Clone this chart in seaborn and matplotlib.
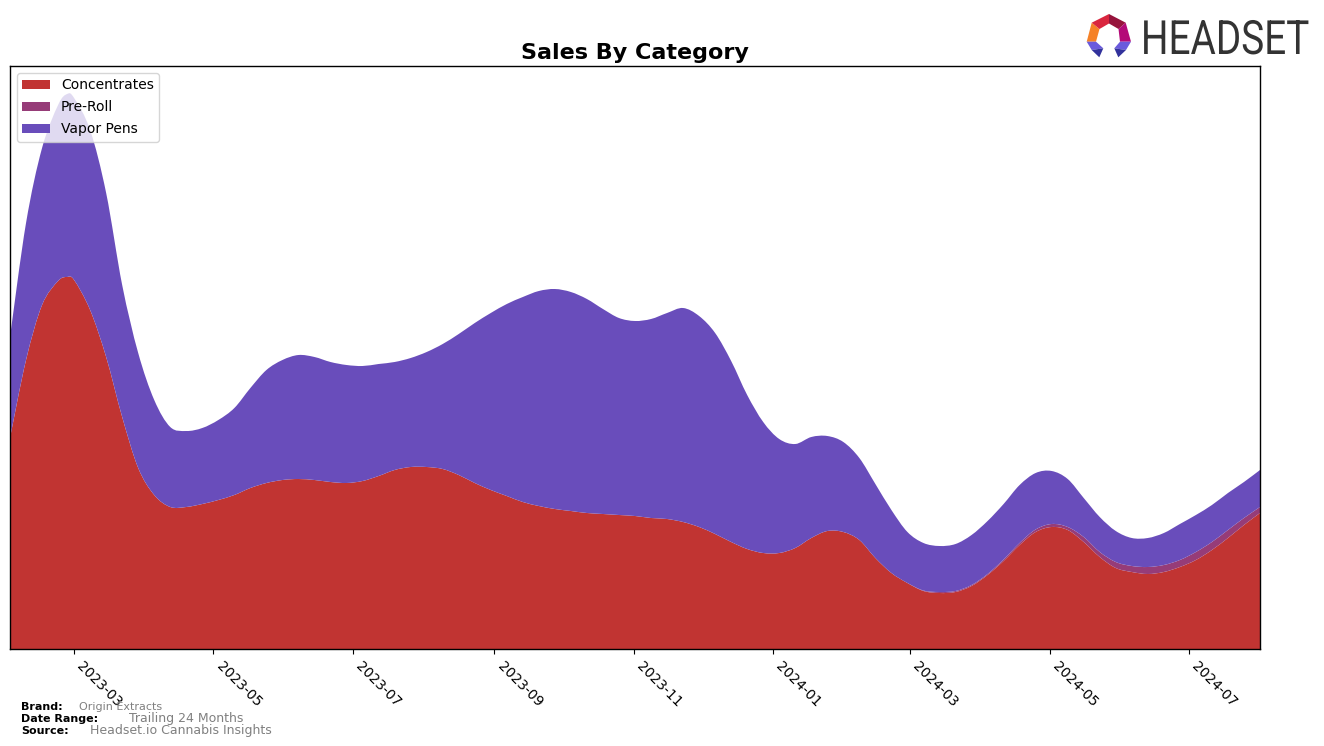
import numpy as np
import pandas as pd
import seaborn as sns
import matplotlib
matplotlib.use("Agg")
import matplotlib.pyplot as plt
import matplotlib.dates as mdates
from matplotlib.patches import Polygon, PathPatch
from matplotlib.path import Path
from matplotlib.patheffects import AbstractPathEffect
from matplotlib.transforms import Affine2D

brand = "Origin Extracts"
date_range = "Trailing 24 Months"
source = "Headset.io Cannabis Insights"
categories = ["Concentrates", "Pre-Roll", "Vapor Pens"]
palette = ["#c13432", "#963c78", "#694dbb"]
tick_months = ["2023-03", "2023-05", "2023-07", "2023-09", "2023-11", "2024-01",
               "2024-03", "2024-05", "2024-07"]

start_date = "2023-02-01"
end_date = "2024-08-01"
peak_date = "2023-02-26"

concentrates = [211, 289, 344, 368, 372, 369, 339, 292, 232, 181, 154, 142, 142, 145, 149, 154,
                161, 166, 169, 170, 169, 167, 166, 168, 173, 179, 182, 182, 180, 174, 166, 159,
                153, 147, 143, 140, 138, 136, 135, 134, 133, 131, 130, 127, 122, 115, 107, 100,
                96, 96, 101, 111, 118, 117, 109, 91, 76, 66, 58, 56, 57, 63, 74, 88, 104, 117,
                122, 119, 107, 92, 81, 77, 75, 77, 82, 89, 99, 111, 124, 136]
pre_roll = [0] * 58 + [0.5, 1, 1, 1, 1, 1.5, 2, 2.5, 3, 3, 5, 5, 6, 6, 7, 7, 7, 8, 8, 8, 7, 6]
all_categories_total = [312, 426, 501, 544, 555, 551, 519, 456, 364, 296, 249, 222, 218, 221, 229,
                        241, 261, 279, 289, 294, 292, 287, 284, 283, 285, 287, 291, 297, 305, 315,
                        326, 336, 345, 352, 358, 360, 357, 350, 340, 331, 328, 330, 336, 341, 333,
                        316, 288, 254, 227, 210, 205, 212, 213, 207, 191, 165, 139, 117, 106, 103,
                        105, 114, 128, 145, 164, 176, 178, 170, 151, 132, 118, 111, 111, 116, 125,
                        134, 144, 156, 167, 179]

dates = pd.date_range(start_date, end_date, periods=79).insert(4, pd.Timestamp(peak_date))
conc = np.array(concentrates, float)
pre = np.array(pre_roll, float)
total = np.array(all_categories_total, float)
vapor_pens = total - conc - pre


def curve(x, y):
    """Bezier vertices through the read points (control points only, the points stay as read)."""
    p = np.column_stack([x, y])
    prev = np.vstack([p[0], p[:-1]])
    nxt = np.vstack([p[1:], p[-1]])
    tan = (nxt - prev) / 6.0
    out = []
    for i in range(len(p) - 1):
        out += [p[i] + tan[i], p[i + 1] - tan[i + 1], p[i + 1]]
    return p[0], out


def band(x, lower, upper):
    s, low = curve(x, lower)
    s2, up = curve(x[::-1], upper[::-1])
    verts = [s] + low + [s2] + up + [s]
    codes = [Path.MOVETO] + [Path.CURVE4] * len(low) + [Path.LINETO] + [Path.CURVE4] * len(up) + [Path.CLOSEPOLY]
    return Path(verts, codes)


sns.set_palette(palette)
colors = sns.color_palette(palette)
W, H = 1324, 746
fig = plt.figure(figsize=(W / 100, H / 100), dpi=100)
ax = fig.add_axes([10 / W, (H - 649) / H, 1250 / W, 583 / H])
xnum = mdates.date2num(dates)
layers = np.vstack([conc, pre, vapor_pens]).cumsum(axis=0)
lower = np.zeros_like(conc)
for name, col, upper in zip(categories, colors, layers):
    ax.add_patch(PathPatch(band(xnum, lower, upper), facecolor=col, edgecolor="none", label=name))
    lower = upper
ax.xaxis_date()
ax.set_xlim(pd.Timestamp(start_date), pd.Timestamp(end_date))
ax.set_ylim(0, 583)
ax.set_yticks([])
ax.set_xticks([pd.Timestamp(m + "-01") for m in tick_months])
ax.xaxis.set_major_formatter(mdates.DateFormatter("%Y-%m"))
plt.setp(ax.get_xticklabels(), rotation=-45, ha="left", fontsize=10)
sns.despine(ax=ax, top=False, right=False)
for s in ax.spines.values():
    s.set_color("black")
    s.set_linewidth(1.0)
ax.set_title("Sales By Category", fontsize=16, fontweight="bold", pad=0, y=1.0 + 7 / 583)
ax.legend(loc="upper left", fontsize=10, labelspacing=0.58, borderpad=0.38)

# Overlay in pixel coordinates for the logo and the footer
ov = fig.add_axes([0, 0, 1, 1], zorder=5)
ov.set_xlim(0, W)
ov.set_ylim(H, 0)
ov.axis("off")
ov.patch.set_alpha(0)

logo = [
    ([(1086.7, 41.7), (1091.7, 22.7), (1099.5, 29), (1096, 41.7)], "#f58228"),
    ([(1091.7, 22.7), (1109, 14), (1109, 23.5), (1099.5, 29)], "#d9263f"),
    ([(1109, 14), (1125.7, 22.7), (1118.5, 29), (1109, 23.5)], "#96143c"),
    ([(1125.7, 22.7), (1131, 41.7), (1120, 41.7), (1118.5, 29)], "#b40a78"),
    ([(1086.7, 41.7), (1096, 41.7), (1103.3, 48.3), (1091.7, 50)], "#6a5adc"),
    ([(1091.7, 50), (1103.3, 48.3), (1099.3, 57.3)], "#32329c"),
    ([(1131, 41.7), (1120, 41.7), (1114.3, 48.3), (1126, 50)], "#6a5adc"),
    ([(1126, 50), (1114.3, 48.3), (1118.3, 57.3)], "#32329c"),
]
for pts, col in logo:
    ov.add_patch(Polygon(pts, closed=True, facecolor=col, edgecolor="none"))


class Squeeze(AbstractPathEffect):
    """Narrows a real text horizontally around a fixed display x."""
    def __init__(self, x0, sx):
        super().__init__()
        self.x0, self.sx = x0, sx

    def draw_path(self, renderer, gc, tpath, affine, rgbFace=None):
        a = affine + Affine2D().translate(-self.x0, 0).scale(self.sx, 1).translate(self.x0, 0)
        renderer.draw_path(gc, tpath, a, rgbFace)


ov.text(1309, 54, "HEADSET", fontsize=34, color="#333333", va="baseline", ha="right",
        family="Roboto", path_effects=[Squeeze(1309, 0.82)])

for x, y, label in [(21, 707.5, "Brand:"), (21, 719, "Date Range:"), (21.5, 730.5, "Source:")]:
    ov.text(x, y, label, fontsize=8, fontweight="bold", color="black", va="center")
for x, y, label, size in [(79, 707.5, brand, 8), (129, 718.5, date_range, 9), (90, 730.5, source, 9)]:
    ov.text(x, y, label, fontsize=size, color="gray", va="center")

fig.savefig("out.png", dpi=100)
